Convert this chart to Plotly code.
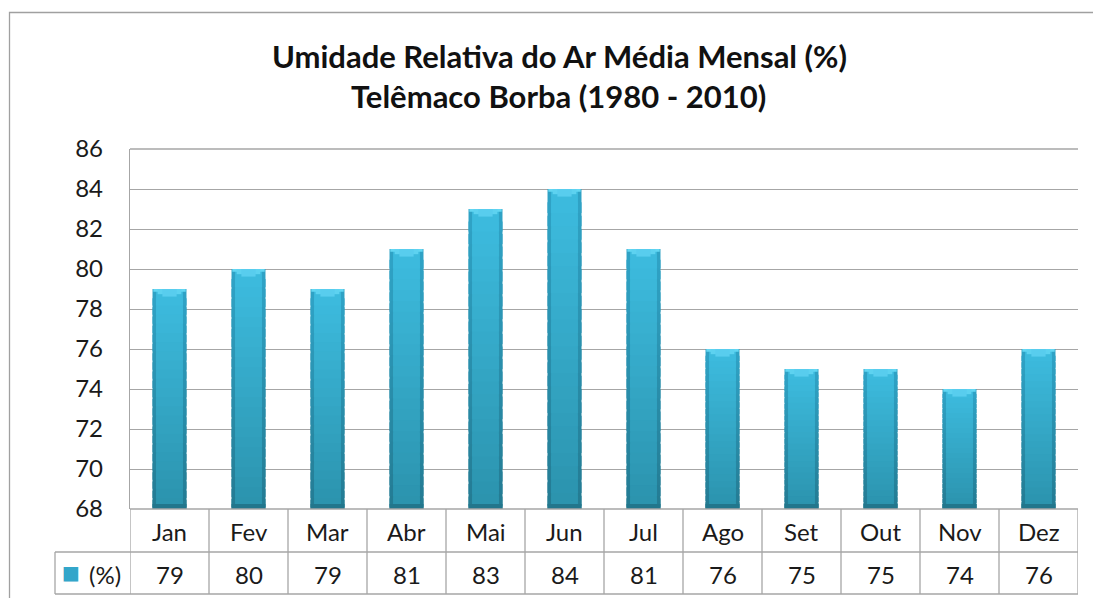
import plotly.graph_objects as go

months = ["Jan", "Fev", "Mar", "Abr", "Mai", "Jun", "Jul", "Ago", "Set", "Out", "Nov", "Dez"]
values = [79, 80, 79, 81, 83, 84, 81, 76, 75, 75, 74, 76]
y_ticks = [68, 70, 72, 74, 76, 78, 80, 82, 84, 86]
series_name = "(%)"
title_line1 = "Umidade Relativa do Ar Média Mensal (%)"
title_line2 = "Telêmaco Borba (1980 - 2010)"

FONT = "Lato"
GRID = "#a6a6a6"
TXT = "#1a1a1a"

W, H = 1093, 598
PL, PR, PT, PB = 130, 1078, 149, 509  # plot area in pixels
L, R, T, B = PL, W - PR, PT, H - PB
PW, PH = PR - PL, PB - PT

def px_x(p):
    return (p - PL) / PW

def px_y(p):
    return (PB - p) / PH

def mix(c1, c2, t):
    a = [int(c1[i:i + 2], 16) for i in (1, 3, 5)]
    b = [int(c2[i:i + 2], 16) for i in (1, 3, 5)]
    return "#" + "".join("%02x" % round(a[j] + (b[j] - a[j]) * t) for j in range(3))

x = list(range(len(months)))
base0 = y_ticks[0]

fig = go.Figure()
N = 24
layers = [
    (0.43, "#237a91", "#2fa2c5"),   # outer (darker sides)
    (0.34, "#2b92ac", "#3cbadd"),   # inner body
]
for width, c_bot, c_top in layers:
    for k in range(N):
        t = k / (N - 1)
        step = [(v - base0) / N for v in values]
        lo = [base0 + s * k - (s * 0.8 if k > 0 else 0) for s in step]
        hi = [base0 + s * (k + 1) for s in step]
        fig.add_bar(x=x, y=[h - l for h, l in zip(hi, lo)], base=lo, width=width,
                    marker=dict(color=mix(c_bot, c_top, t), line=dict(width=0)),
                    hoverinfo="skip", showlegend=False)
# top bevel highlight (chevron approximation)
for width, cap, col in [(0.41, 0.14, "#62d6f2"), (0.30, 0.26, "#5dd2f0"), (0.18, 0.38, "#58cdee")]:
    fig.add_bar(x=x, y=[cap] * len(values), base=[v - cap for v in values], width=width,
                marker=dict(color=col, line=dict(width=0)), hoverinfo="skip", showlegend=False)
# dark foot
foot = 0.25
fig.add_bar(x=x, y=[foot] * len(values), base=[base0] * len(values), width=0.43,
            marker=dict(color="#22768c", line=dict(width=0)), hoverinfo="skip", showlegend=False)

fig.update_layout(
    width=W, height=H,
    margin=dict(l=L, r=R, t=T, b=B),
    paper_bgcolor="white", plot_bgcolor="white",
    barmode="overlay",
    font=dict(family=FONT, color=TXT, size=24),
    xaxis=dict(range=[-0.5, len(months) - 0.5], showticklabels=False, showgrid=False,
               zeroline=False, showline=False, ticks=""),
    yaxis=dict(range=[y_ticks[0], y_ticks[-1]], tickvals=y_ticks, showgrid=True,
               gridcolor=GRID, gridwidth=1.3, zeroline=False, showline=True,
               linecolor=GRID, linewidth=1.3, ticks="", ticklabelstandoff=21,
               tickfont=dict(family=FONT, size=24, color=TXT)),
)

shapes = []
line = dict(color=GRID, width=1.3)
shapes.append(dict(type="rect", xref="paper", yref="paper", x0=px_x(9.5), x1=px_x(1110),
                   y0=px_y(12.5), y1=px_y(620), line=dict(color="#a0a0a0", width=1.3),
                   layer="below"))
row1_bottom = px_y(552)
row2_bottom = px_y(594)
shapes.append(dict(type="line", xref="paper", yref="paper", x0=0, x1=1, y0=1, y1=1, line=line))
shapes.append(dict(type="line", xref="paper", yref="paper", x0=0, x1=1, y0=0, y1=0, line=line))
shapes.append(dict(type="line", xref="paper", yref="paper", x0=px_x(55), x1=1,
                   y0=row1_bottom, y1=row1_bottom, line=line))
shapes.append(dict(type="line", xref="paper", yref="paper", x0=px_x(55), x1=1,
                   y0=row2_bottom, y1=row2_bottom, line=line))
shapes.append(dict(type="line", xref="paper", yref="paper", x0=px_x(55), x1=px_x(55),
                   y0=row1_bottom, y1=row2_bottom, line=line))
for i in range(len(months) + 1):
    shapes.append(dict(type="line", xref="x", yref="paper", x0=i - 0.5, x1=i - 0.5,
                       y0=0, y1=row2_bottom, line=line))
fig.update_layout(shapes=shapes)

ann = []
for i, (m, v) in enumerate(zip(months, values)):
    ann.append(dict(x=i, y=px_y(531), xref="x", yref="paper", text=m, showarrow=False,
                    font=dict(family=FONT, size=24, color=TXT), xanchor="center", yanchor="middle"))
    ann.append(dict(x=i, y=px_y(574), xref="x", yref="paper", text=str(v), showarrow=False,
                    font=dict(family=FONT, size=24, color=TXT), xanchor="center", yanchor="middle"))
ann.append(dict(x=px_x(71), y=px_y(572), xref="paper", yref="paper",
                text="<span style='color:#33a6ca'>■</span>", showarrow=False,
                font=dict(family="DejaVu Sans", size=19), xanchor="center", yanchor="middle"))
ann.append(dict(x=px_x(105), y=px_y(574), xref="paper", yref="paper",
                text=series_name, showarrow=False,
                font=dict(family=FONT, size=24, color=TXT), xanchor="center", yanchor="middle"))
ann.append(dict(x=px_x(559), y=px_y(56), xref="paper", yref="paper", text="<b>" + title_line1 + "</b>",
                showarrow=False, font=dict(family=FONT, size=31, color="#111"),
                xanchor="center", yanchor="middle"))
ann.append(dict(x=px_x(558), y=px_y(96), xref="paper", yref="paper", text="<b>" + title_line2 + "</b>",
                showarrow=False, font=dict(family=FONT, size=31, color="#111"),
                xanchor="center", yanchor="middle"))
fig.update_layout(annotations=ann)

fig.write_html("out.html", config={"displayModeBar": False},
               post_script="document.body.style.margin='0';document.body.style.overflow='hidden';")
